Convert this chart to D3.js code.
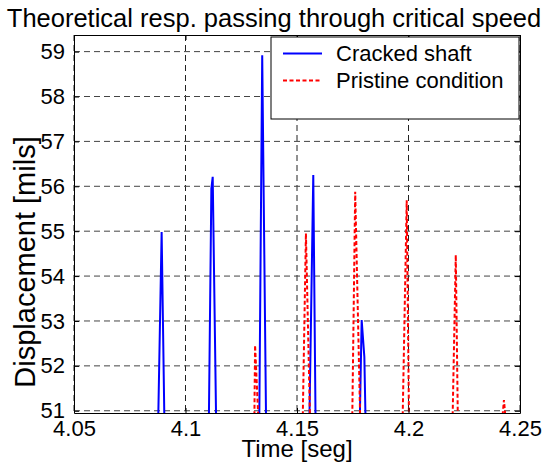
<!DOCTYPE html>
<html>
<head>
<meta charset="utf-8">
<script src="https://cdn.jsdelivr.net/npm/d3@7"></script>
<style>
  html, body { margin: 0; padding: 0; background: #fff; }
  svg { display: block; font-family: "Liberation Sans", Arial, sans-serif; }
</style>
</head>
<body>
<div id="chart-container"></div>
<script>
// Theoretical response passing through critical speed

// data (null = gap between spikes)
const crackedTime = [4.0878, 4.0893, 4.0905, null,
  4.1105, 4.1116, 4.1122, 4.1137, null,
  4.1331, 4.1344, 4.1361, null,
  4.1556, 4.1573, 4.1583, null,
  4.1782, 4.1790, 4.1802, 4.1807];
const crackedDisp = [50.9, 54.98, 50.9, null,
  50.9, 55.95, 56.21, 50.9, null,
  50.9, 58.92, 50.9, null,
  50.9, 56.25, 50.9, null,
  50.9, 53.02, 52.2, 50.9];

const pristineTime = [4.1309, 4.1312, 4.1326, null,
  4.1526, 4.1540, 4.1558, null,
  4.1748, 4.1761, 4.1783, null,
  4.1974, 4.1992, 4.2002, null,
  4.2198, 4.2212, 4.2221, null,
  4.2422, 4.2428, 4.2434];
const pristineDisp = [50.9, 52.46, 50.9, null,
  50.9, 54.95, 50.9, null,
  50.9, 55.88, 50.9, null,
  50.9, 55.69, 50.9, null,
  50.9, 54.47, 50.9, null,
  50.9, 51.24, 50.9];

const xTicks = [4.05, 4.1, 4.15, 4.2, 4.25];
const xTickLabels = ["4.05", "4.1", "4.15", "4.2", "4.25"];
const yTicks = [51, 52, 53, 54, 55, 56, 57, 58, 59];
const yTickLabels = ["51", "52", "53", "54", "55", "56", "57", "58", "59"];

const seriesNames = ["Cracked shaft", "Pristine condition"];

// Setup
const width = 543, height = 464;
const margin = { top: 35, right: 23, bottom: 51, left: 74 };
const innerWidth = width - margin.left - margin.right;
const innerHeight = height - margin.top - margin.bottom;

const svg = d3.select("#chart-container").append("svg")
  .attr("width", width)
  .attr("height", height);

const g = svg.append("g").attr("transform", `translate(${margin.left},${margin.top})`);

const x = d3.scaleLinear().domain([4.05, 4.25]).range([0, innerWidth]);
const y = d3.scaleLinear().domain([50.95, 59.37]).range([innerHeight, 0]);

svg.append("defs").append("clipPath").attr("id", "plot-clip")
  .append("rect").attr("width", innerWidth).attr("height", innerHeight);

// grid
g.append("g")
  .selectAll("line")
  .data(xTicks)
  .join("line")
  .attr("x1", d => x(d)).attr("x2", d => x(d))
  .attr("y1", 0).attr("y2", innerHeight)
  .attr("stroke", "#222")
  .attr("stroke-dasharray", "6,4");

g.append("g")
  .selectAll("line")
  .data(yTicks)
  .join("line")
  .attr("x1", 0).attr("x2", innerWidth)
  .attr("y1", d => y(d)).attr("y2", d => y(d))
  .attr("stroke", "#444")
  .attr("stroke-dasharray", "6,4");

// series
const line = d3.line()
  .defined(d => d[1] != null)
  .x(d => x(d[0]))
  .y(d => y(d[1]));

const plot = g.append("g").attr("clip-path", "url(#plot-clip)");

plot.append("path")
  .datum(d3.zip(crackedTime, crackedDisp))
  .attr("d", line)
  .attr("fill", "none")
  .attr("stroke", "#0000ff")
  .attr("stroke-width", 2);

plot.append("path")
  .datum(d3.zip(pristineTime, pristineDisp))
  .attr("d", line)
  .attr("fill", "none")
  .attr("stroke", "#ff0000")
  .attr("stroke-width", 2)
  .attr("stroke-dasharray", "4,2.5");

// axes (MATLAB style: ticks inside on all four sides)
const fmtX = d => xTickLabels[xTicks.indexOf(d)];
const fmtY = d => yTickLabels[yTicks.indexOf(d)];

const axisBottom = g.append("g")
  .attr("transform", `translate(0,${innerHeight})`)
  .call(d3.axisBottom(x).tickValues(xTicks).tickFormat(fmtX).tickSizeInner(-5).tickSizeOuter(0).tickPadding(7));
const axisTop = g.append("g")
  .call(d3.axisTop(x).tickValues(xTicks).tickFormat("").tickSizeInner(-5).tickSizeOuter(0));
const axisLeft = g.append("g")
  .call(d3.axisLeft(y).tickValues(yTicks).tickFormat(fmtY).tickSizeInner(-5).tickSizeOuter(0).tickPadding(9));
const axisRight = g.append("g")
  .attr("transform", `translate(${innerWidth},0)`)
  .call(d3.axisRight(y).tickValues(yTicks).tickFormat("").tickSizeInner(-5).tickSizeOuter(0));

[axisBottom, axisTop, axisLeft, axisRight].forEach(a => {
  a.select(".domain").attr("stroke", "#000");
  a.selectAll(".tick line").attr("stroke", "#000");
  a.selectAll("text").attr("fill", "#000").style("font-size", "22px");
});
axisBottom.selectAll("text").attr("dy", "0.72em");
// drop the empty label nodes of the mirrored axes
axisTop.selectAll("text").remove();
axisRight.selectAll("text").remove();

// legend
const legend = g.append("g").attr("transform", `translate(${271 - margin.left},${37 - margin.top})`);
legend.append("rect")
  .attr("width", 248).attr("height", 82)
  .attr("fill", "#fff").attr("stroke", "#000");

const legendStyles = [
  { color: "#0000ff", dash: null },
  { color: "#ff0000", dash: "4,2.5" }
];
seriesNames.forEach((name, i) => {
  const ly = 16.5 + i * 27;
  legend.append("line")
    .attr("x1", 12).attr("x2", 51)
    .attr("y1", ly).attr("y2", ly)
    .attr("stroke", legendStyles[i].color)
    .attr("stroke-width", 2)
    .attr("stroke-dasharray", legendStyles[i].dash);
  legend.append("text")
    .attr("x", 65).attr("y", ly)
    .attr("dy", "0.35em")
    .style("font-size", "22px")
    .text(name);
});

// titles
svg.append("text")
  .attr("x", 274)
  .attr("y", 27)
  .attr("text-anchor", "middle")
  .style("font-size", "25.5px")
  .text("Theoretical resp. passing through critical speed");

svg.append("text")
  .attr("x", margin.left + innerWidth / 2)
  .attr("y", 457)
  .attr("text-anchor", "middle")
  .style("font-size", "24px")
  .text("Time [seg]");

svg.append("text")
  .attr("transform", `translate(35,262) rotate(-90)`)
  .attr("text-anchor", "middle")
  .style("font-size", "29px")
  .text("Displacement [mils]");
</script>
</body>
</html>
